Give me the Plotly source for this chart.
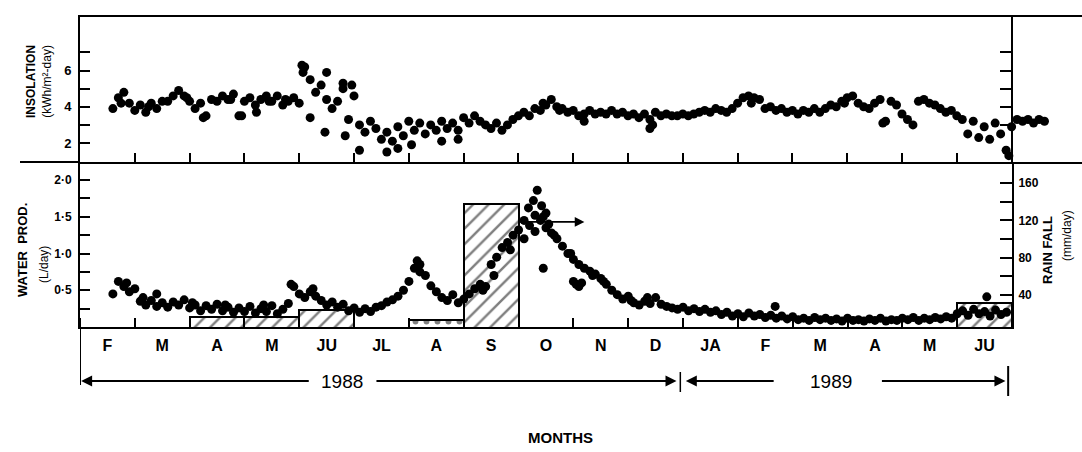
import numpy as np
import plotly.graph_objects as go

W, H = 1082, 452

# ---------------- DATA ----------------
months = ["F", "M", "A", "M", "JU", "JL", "A", "S", "O", "N", "D",
          "JA", "F", "M", "A", "M", "JU"]

# monthly rainfall (mm/day), Feb 1988 .. Jun 1989
rainfall = [0, 0, 16, 16, 24, 0, 13, 137, 0, 0, 0, 0, 0, 0, 0, 0, 31]
rain_pattern = ["", "", "/", "/", "/", "", ".", "/", "", "", "", "", "", "", "", "", "/"]

# insolation (kWh/m2-day), sampled every ~3 days from mid-Feb 1988 (month index 0.6)
insolation = [
    3.9, 4.5, 4.8, 4.2, 3.8,
    4.1, 3.7, 4.2, 3.9, 4.3, 4.3, 4.6, 4.9, 4.6, 4.3,
    3.9, 4.2, 3.5, 4.4, 4.3, 4.6, 4.4, 4.7, 3.5, 4.3,
    4.5, 4.1, 4.4, 4.6, 4.3, 4.6, 4.1, 4.3, 4.5, 4.2,
    6.2, 5.5, 4.8, 5.2, 4.4, 3.9, 4.3, 5.0, 3.3, 4.6,
    3.0, 2.6, 3.2, 2.8, 2.2, 2.6, 2.1, 2.9, 2.4, 3.2,
    2.7, 3.1, 2.5, 3.0, 2.7, 3.2, 2.8, 3.1, 2.7, 3.4,
    3.1, 3.5, 3.2, 3.0, 2.8, 3.1, 2.7, 3.0, 3.3, 3.5,
    3.7, 3.5, 3.9, 3.8, 4.1, 4.4, 4.0, 3.9, 3.7, 3.8,
    3.5, 3.6, 3.8, 3.6, 3.7, 3.6, 3.8, 3.6, 3.7, 3.5,
    3.6, 3.4, 3.6, 3.3, 3.7, 3.5, 3.6, 3.5, 3.5, 3.6,
    3.5, 3.6, 3.7, 3.8, 3.7, 3.9, 3.8, 3.7, 3.9, 4.2,
    4.5, 4.6, 4.5, 4.4, 3.9, 4.0, 3.8, 3.9, 3.7, 3.8,
    3.6, 3.8, 3.7, 3.9, 3.7, 3.9, 4.1, 4.0, 4.3, 4.5,
    4.6, 4.2, 4.0, 3.9, 4.2, 4.4, 3.2, 4.3, 4.1, 3.6,
    3.3, 3.0, 4.3, 4.4, 4.2, 4.1, 3.9, 3.7, 3.8, 3.5,
    3.3, 2.5, 3.2, 2.3, 2.9, 2.2, 3.1, 2.5, 1.6, 2.9,
    3.3, 3.2, 3.3, 3.1, 3.3, 3.2,
]
ins_extra_x = [4.05, 4.07, 4.5, 4.47, 4.8, 4.96, 4.84, 5.1, 2.25, 2.95, 3.22, 4.2,
               6.05, 6.6, 6.9, 5.6, 5.8, 10.4, 10.45, 9.2, 14.65, 16.95,
               0.75, 1.25, 1.95, 2.75, 3.45, 3.75, 8.45, 8.75, 12.25, 13.95]
ins_extra_y = [6.3, 5.9, 5.9, 2.6, 5.3, 5.2, 2.4, 1.6, 3.4, 3.5, 3.7, 3.4,
               1.9, 2.1, 2.2, 1.5, 1.7, 2.8, 3.0, 3.2, 3.1, 1.3,
               4.2, 4.0, 4.5, 4.4, 4.3, 4.4, 4.2, 3.8, 4.2, 4.2]

# water production (L/day), sampled every ~3 days from mid-Feb 1988
water = [
    0.45, 0.62, 0.55, 0.48, 0.52,
    0.35, 0.30, 0.36, 0.28, 0.33, 0.27, 0.34, 0.30, 0.37, 0.26,
    0.30, 0.22, 0.29, 0.24, 0.31, 0.22, 0.27, 0.20, 0.26, 0.21,
    0.28, 0.19, 0.25, 0.21, 0.29, 0.18, 0.24, 0.32, 0.55, 0.45,
    0.40, 0.48, 0.42, 0.36, 0.30, 0.34, 0.27, 0.31, 0.22, 0.26,
    0.20, 0.25, 0.21, 0.27, 0.29, 0.34, 0.37, 0.42, 0.50, 0.62,
    0.80, 0.85, 0.70, 0.56, 0.48, 0.40, 0.36, 0.44, 0.33, 0.38,
    0.45, 0.52, 0.58, 0.55, 0.85, 0.95, 1.08, 1.15, 1.25, 1.32,
    1.20, 1.38, 1.30, 1.45, 1.35, 1.28, 1.20, 1.10, 1.00, 0.92,
    0.85, 0.80, 0.76, 0.72, 0.66, 0.58, 0.50, 0.44, 0.38, 0.42,
    0.33, 0.30, 0.35, 0.32, 0.40, 0.31, 0.28, 0.26, 0.24, 0.27,
    0.22, 0.25, 0.21, 0.24, 0.20, 0.22, 0.17, 0.20, 0.15, 0.18,
    0.14, 0.19, 0.15, 0.17, 0.13, 0.16, 0.12, 0.15, 0.11, 0.14,
    0.10, 0.12, 0.09, 0.13, 0.10, 0.12, 0.09, 0.11, 0.08, 0.12,
    0.09, 0.10, 0.08, 0.11, 0.09, 0.12, 0.08, 0.10, 0.09, 0.12,
    0.10, 0.13, 0.09, 0.12, 0.10, 0.13, 0.11, 0.14, 0.12, 0.18,
    0.22, 0.16, 0.24, 0.18, 0.21, 0.15, 0.23, 0.17, 0.20,
]
water_extra_x = [8.34, 8.27, 8.42, 8.18, 8.3, 8.45, 8.5, 8.45, 9.0, 9.05, 9.1, 9.15,
                 1.4, 16.54, 12.68, 3.85, 6.15, 6.2, 8.1, 8.55,
                 0.85, 1.15, 2.05, 2.65, 3.35, 4.25, 7.35, 7.55, 7.85, 8.65, 8.95,
                 9.35, 9.55, 10.05, 10.35]
water_extra_y = [1.86, 1.72, 1.65, 1.62, 1.52, 1.5, 1.55, 0.80, 0.62, 0.58, 0.55, 0.60,
                 0.45, 0.41, 0.28, 0.58, 0.90, 0.75, 1.45, 1.40,
                 0.60, 0.40, 0.33, 0.30, 0.30, 0.52, 0.50, 0.70, 1.05, 1.25, 1.00,
                 0.70, 0.62, 0.36, 0.40]

ins_ticks = [2, 3, 4, 5, 6, 7]
ins_text = ["2", "", "4", "", "6", ""]
water_ticks = [0.25, 0.5, 0.75, 1.0, 1.25, 1.5, 1.75, 2.0]
water_text = ["", "0·5", "", "1·0", "", "1·5", "", "2·0"]
rain_ticks = [40, 60, 80, 100, 120, 140, 160]
rain_text = ["40", "", "80", "", "120", "", "160"]

# --------------- helpers ---------------
def px(x):
    return x / W

def py(y):
    return 1 - y / H

ins_x = np.round(0.6 + 0.1 * np.arange(len(insolation)), 2)
water_x = np.round(0.6 + 0.1 * np.arange(len(water)), 2)
month_centers = [i + 0.5 for i in range(len(months))]

FONT = "Liberation Sans"
mk = dict(color="black", size=9, line=dict(color="black", width=0))

fig = go.Figure()

fig.add_trace(go.Bar(
    x=month_centers, y=rainfall, width=1.0, xaxis="x2", yaxis="y2",
    marker=dict(color="white", line=dict(color="black", width=2),
                pattern=dict(shape=rain_pattern, fgcolor="black", bgcolor="white",
                             size=11, solidity=0.22)),
    showlegend=False, hoverinfo="skip"))

fig.add_trace(go.Scatter(x=water_x, y=water, mode="markers", xaxis="x2", yaxis="y3",
                         marker=mk, showlegend=False))
fig.add_trace(go.Scatter(x=water_extra_x, y=water_extra_y, mode="markers", xaxis="x2",
                         yaxis="y3", marker=mk, showlegend=False))
fig.add_trace(go.Scatter(x=ins_x, y=insolation, mode="markers", xaxis="x", yaxis="y",
                         marker=mk, showlegend=False))
fig.add_trace(go.Scatter(x=ins_extra_x, y=ins_extra_y, mode="markers", xaxis="x",
                         yaxis="y", marker=mk, showlegend=False))
fig.add_trace(go.Scatter(x=[], y=[], xaxis="x", yaxis="y4", showlegend=False))

x_per_month = 54.8
top_dom = [py(162), py(17)]
bot_dom = [py(327), py(162)]
axis_line = dict(showline=True, linecolor="black", linewidth=2, showgrid=False,
                 zeroline=False)

fig.update_layout(
    width=W, height=H, margin=dict(l=0, r=0, t=0, b=0),
    paper_bgcolor="white", plot_bgcolor="white",
    font=dict(family=FONT, color="black", size=12),
    bargap=0,
    xaxis=dict(domain=[px(80), 1.0], range=[0, (W - 80) / x_per_month],
               anchor="y", mirror=True, tickvals=list(range(1, 18)), ticks="inside",
               ticklen=9, tickwidth=2, tickcolor="black", showticklabels=False,
               **axis_line),
    yaxis=dict(domain=top_dom, range=[0.95, 8.96], anchor="x",
               tickvals=ins_ticks, ticktext=ins_text, ticks="inside", ticklen=10,
               tickwidth=2, tickcolor="black", ticklabelstandoff=4,
               tickfont=dict(size=13, family=FONT, weight="bold"), **axis_line),
    yaxis4=dict(overlaying="y", anchor="free", position=px(1012), side="right",
                range=[0.95, 8.96], tickvals=[3, 4, 5, 6, 7], ticks="inside",
                ticklen=11, tickwidth=2, tickcolor="black", showticklabels=False,
                **axis_line),
    xaxis2=dict(domain=[px(80), px(1012)], range=[0, 17], anchor="y2",
                tickvals=month_centers, ticktext=months, ticks="",
                ticklabelstandoff=3,
                tickfont=dict(size=16, family=FONT, weight="bold"),
                minor=dict(tick0=0, dtick=1, ticks="inside", ticklen=9,
                           tickwidth=2, tickcolor="black"),
                **axis_line),
    yaxis2=dict(domain=bot_dom, range=[5.7, 182.5], anchor="x2", side="right",
                tickvals=rain_ticks, ticktext=rain_text, ticks="inside", ticklen=12,
                tickwidth=2, tickcolor="black", ticklabelstandoff=2,
                tickfont=dict(size=12, family=FONT, weight="bold"), **axis_line),
    yaxis3=dict(overlaying="y2", anchor="x2", side="left", range=[0, 2.245],
                tickvals=water_ticks, ticktext=water_text, ticks="inside", ticklen=10,
                tickwidth=2, tickcolor="black", ticklabelstandoff=4,
                tickfont=dict(size=12, family=FONT, weight="bold"), **axis_line),
)

C = dict(xanchor="center", yanchor="middle", showarrow=False)
ann = []
# axis titles
ann.append(dict(text="<b>INSOLATION</b><br>(kWh/m²-day)", x=px(39), y=py(82),
                xref="paper", yref="paper", textangle=-90,
                font=dict(size=12, family=FONT), **C))
ann.append(dict(text="<b>WATER  PROD.</b>", x=px(22), y=py(250), xref="paper",
                yref="paper", textangle=-90, font=dict(size=13, family=FONT), **C))
ann.append(dict(text="(L/day)", x=px(44), y=py(265), xref="paper", yref="paper",
                textangle=-90, font=dict(size=12, family=FONT), **C))
ann.append(dict(text="<b>RAIN FALL</b>", x=px(1047), y=py(250), xref="paper",
                yref="paper", textangle=-90, font=dict(size=13, family=FONT), **C))
ann.append(dict(text="(mm/day)", x=px(1067), y=py(236), xref="paper", yref="paper",
                textangle=-90, font=dict(size=12, family=FONT), **C))
ann.append(dict(text="<b>MONTHS</b>", x=px(560), y=py(437), xref="paper", yref="paper",
                font=dict(size=15, family=FONT), **C))
ann.append(dict(text="1988", x=4.78, y=py(381), xref="x2", yref="paper",
                font=dict(size=19, family=FONT), **C))
ann.append(dict(text="1989", x=13.69, y=py(381), xref="x2", yref="paper",
                font=dict(size=19, family=FONT), **C))

# year span arrows
for head, tail in [(0.02, 4.2), (10.88, 5.38), (11.05, 12.68), (16.88, 14.6)]:
    ann.append(dict(text="", x=head, y=py(381), xref="x2", yref="paper",
                    ax=tail, ay=0, axref="x2", ayref="pixel", showarrow=True,
                    arrowhead=2, arrowsize=1.1, arrowwidth=2, arrowcolor="black"))
# October arrow in lower panel
ann.append(dict(text="", x=9.2, y=1.43, xref="x2", yref="y3", ax=8.0, ay=1.43,
                axref="x2", ayref="y3", showarrow=True, arrowhead=2, arrowsize=1.2,
                arrowwidth=1.6, arrowcolor="black"))
fig.update_layout(annotations=ann)

shapes = [
    dict(type="line", xref="paper", yref="paper", x0=px(20), x1=px(80),
         y0=py(162), y1=py(162), line=dict(color="black", width=2)),
    dict(type="line", xref="x2", yref="paper", x0=0, x1=0, y0=py(327), y1=py(385),
         line=dict(color="black", width=2)),
    dict(type="line", xref="x2", yref="paper", x0=10.95, x1=10.95, y0=py(372),
         y1=py(392), line=dict(color="black", width=1.5)),
    dict(type="line", xref="x2", yref="paper", x0=16.93, x1=16.93, y0=py(366),
         y1=py(396), line=dict(color="black", width=2)),
]
fig.update_layout(shapes=shapes)

fig.write_html("out.html", config={"displayModeBar": False},
               post_script="document.body.style.margin='0';"
                           "document.body.style.overflow='hidden';")
